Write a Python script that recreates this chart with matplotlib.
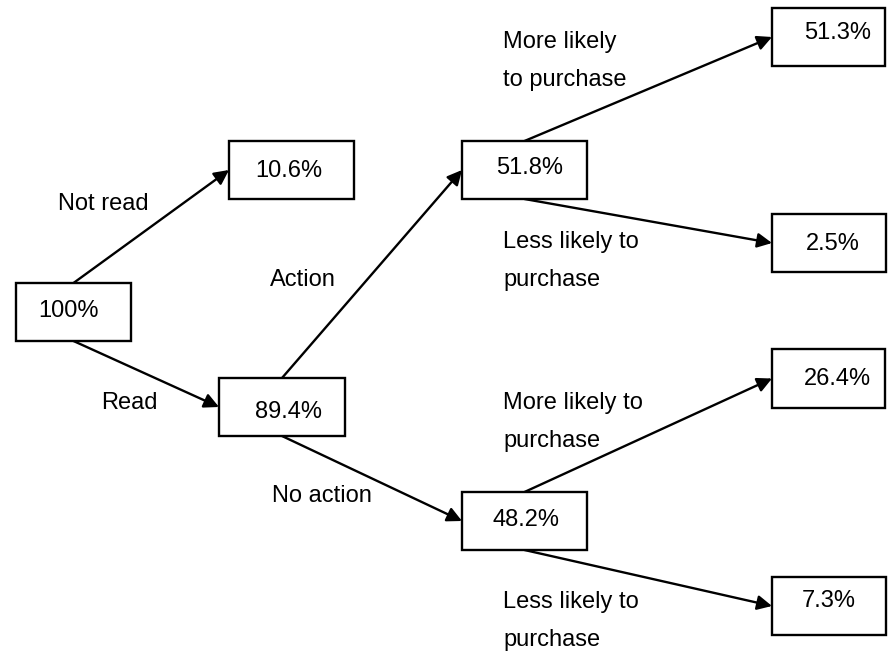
import matplotlib.pyplot as plt
from matplotlib.patches import Rectangle, FancyArrowPatch

plt.rcParams['font.family'] = ['Liberation Sans', 'DejaVu Sans']

# node values (share of readers)
node_labels = ['100%', '10.6%', '89.4%', '51.8%', '48.2%', '51.3%', '2.5%', '26.4%', '7.3%']

# tree edges: parent -> child with branch label
edge_parent = [0, 0, 2, 2, 3, 3, 4, 4]
edge_child = [1, 2, 3, 4, 5, 6, 7, 8]
edge_labels = ['Not read', 'Read', 'Action', 'No action',
               'More likely\nto purchase', 'Less likely to\npurchase',
               'More likely to\npurchase', 'Less likely to\npurchase']

# layout (pixel units, y down)
boxes = [(16, 283, 115, 58), (229, 141, 125, 58), (219, 378, 126, 58),
         (462, 141, 125, 58), (462, 492, 125, 58), (772, 8, 113, 58),
         (772, 214, 114, 58), (772, 349, 113, 59), (772, 577, 114, 58)]
text_pos = [(68, 311), (289, 171), (288, 412), (530, 168), (526, 520),
            (838, 33), (833, 244), (837, 379), (829, 601)]
label_pos = [(58, 204), (101, 403), (270, 280), (272, 496),
             (503, 61), (503, 261), (503, 422), (503, 621)]

fig = plt.figure(figsize=(8.9, 6.52), dpi=100)
ax = fig.add_axes([0, 0, 1, 1])
ax.set_xlim(0, 890)
ax.set_ylim(652, 0)
ax.axis('off')

for (x, y, w, h), (tx, ty), lab in zip(boxes, text_pos, node_labels):
    ax.add_patch(Rectangle((x, y), w, h, facecolor='white', edgecolor='black', lw=1.7, zorder=3))
    ax.text(tx, ty, lab, ha='center', va='center', fontsize=17, zorder=4)

for p, c, lab, (lx, ly) in zip(edge_parent, edge_child, edge_labels, label_pos):
    px, py, pw, ph = boxes[p]
    cx, cy, cw, ch = boxes[c]
    child_mid = cy + ch / 2
    start_y = py if child_mid < py + ph / 2 else py + ph
    arr = FancyArrowPatch((px + pw / 2, start_y), (cx, child_mid),
                          arrowstyle='-|>', mutation_scale=22, lw=1.7,
                          color='black', shrinkA=0, shrinkB=0, zorder=2)
    ax.add_patch(arr)
    ax.text(lx, ly, lab, ha='left', va='center', fontsize=17, linespacing=1.92)

fig.savefig('out.png', dpi=100)
